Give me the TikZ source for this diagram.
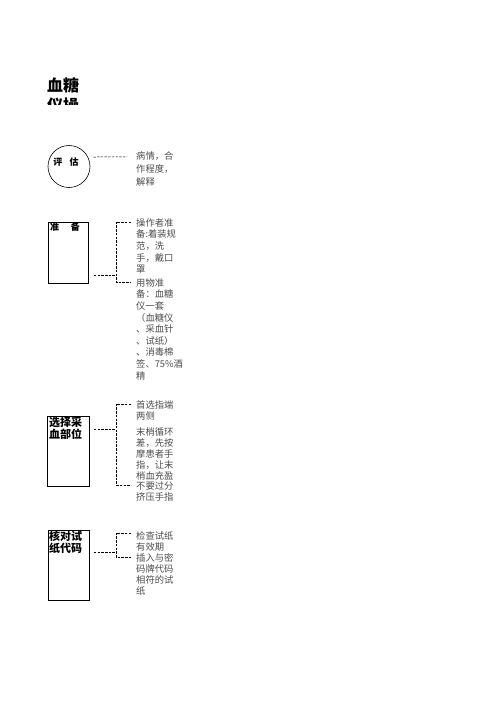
\documentclass[tikz,border=0pt]{standalone}
\usepackage{fontspec}
\setmainfont{Noto Sans CJK SC}
\usetikzlibrary{calc,positioning}
\tikzset{/flow/head/.style={inner sep=0pt, anchor=north west, align=left, font=\fontsize{16}{20}\selectfont\bfseries
}}
\tikzset{/flow/round/.style={circle, draw, line width=0.6pt, minimum size=42pt, inner sep=0pt
}}
\tikzset{/flow/box/.style={rectangle, draw, line width=0.9pt, anchor=north west, inner sep=0pt
}}
\tikzset{/flow/tag/.style={inner sep=0pt, anchor=north west, align=left, font=\fontsize{11}{12.5}\selectfont\bfseries
}}
\tikzset{/flow/note/.style={inner sep=0pt, anchor=north west, align=left, text=black!70, font=\fontsize{9.3}{11}\selectfont
}}
\tikzset{/flow/link/.style={line width=0.5pt, dash pattern=on 2.5pt off 1.2pt
}}

\begin{document}
\begin{tikzpicture}[x=1pt, y=-1pt]
		\useasboundingbox (0,0) rectangle (496,702);
		\begin{scope}
			\clip (0,0) rectangle (496,104);
			\node[/flow/head] (title) at (47,77) {血糖\\仪操};
		\end{scope}

		\node[/flow/round] (eval) at (69,166.5) {};
		\node[font=\fontsize{9}{9}\selectfont\bfseries, inner sep=0pt] (evaltag) at ($(eval.center)+(-3,-4.5)$) {评\hspace{0.8em}估};
		\node[/flow/note, font=\fontsize{9.3}{13}\selectfont] (evalnote) at (136,151.35) {病情，合\\作程度，\\解释};
		\draw[/flow/link] ($(eval.east)+(3,-9.5)$) -- ($(evalnote.north west)+(-9,5.6)$);

		\node[/flow/box, minimum width=40pt, minimum height=61pt] (prep) at (48,222) {};
		\node[font=\fontsize{9}{9}\selectfont\bfseries, inner sep=0pt, anchor=north west] (preptag) at (50,222.5) {准\hspace{1.3em}备};
		\node[/flow/note, font=\fontsize{9.3}{11.6}\selectfont] (prep1) at (136,218.35) {操作者准\\备:着装规\\范，洗\\手，戴口\\罩};
		\node[/flow/note, font=\fontsize{9.3}{11.6}\selectfont] (prep2) at (136,278.35) {用物准\\备：血糖\\仪一套\\（血糖仪\\、采血针\\、试纸）\\、消毒棉\\签、75\%酒\\精};
		\coordinate (prepjoin) at (116,275);
		\draw[/flow/link] ($(prep1.north west)+(-5,3.6)$) -- ++(-15,0) |- ($(prep2.north west)+(-5,3.6)$);
		\draw[/flow/link] (prep.east |- prepjoin) ++(5,0) -- (prepjoin);

		\node[/flow/box, minimum width=42pt, minimum height=70pt] (site) at (47,416) {};
		\node[/flow/tag] (sitetag) at (49,416.5) {选择采\\血部位};
		\node[/flow/note] (site1) at (136,400.35) {首选指端\\两侧};
		\node[/flow/note] (site2) at (136,427.35) {末梢循环\\差，先按\\摩患者手\\指，让末\\梢血充盈};
		\node[/flow/note] (site3) at (136,481.35) {不要过分\\挤压手指};
		\coordinate (sitejoin) at (116,429);
		\draw[/flow/link] ($(site1.north west)+(-5,3.6)$) -- ++(-15,0) |- ($(site3.north west)+(-5,3.6)$);
		\draw[/flow/link] (site.east |- sitejoin) ++(4,0) -- (sitejoin);

		\node[/flow/box, minimum width=41pt, minimum height=70pt] (strip) at (48,530) {};
		\node[/flow/tag] (striptag) at (49,530.5) {核对试\\纸代码};
		\node[/flow/note] (strip1) at (136,531.35) {检查试纸\\有效期};
		\node[/flow/note] (strip2) at (136,553.35) {插入与密\\码牌代码\\相符的试\\纸};
		\coordinate (stripjoin) at (116,552);
		\draw[/flow/link] ($(strip1.north west)+(-5,1.6)$) -- ++(-15,0) |- ($(strip2.north west)+(-5,3.6)$);
		\draw[/flow/link] (strip.east |- stripjoin) ++(4,0) -- (stripjoin);
	\end{tikzpicture}
\end{document}
